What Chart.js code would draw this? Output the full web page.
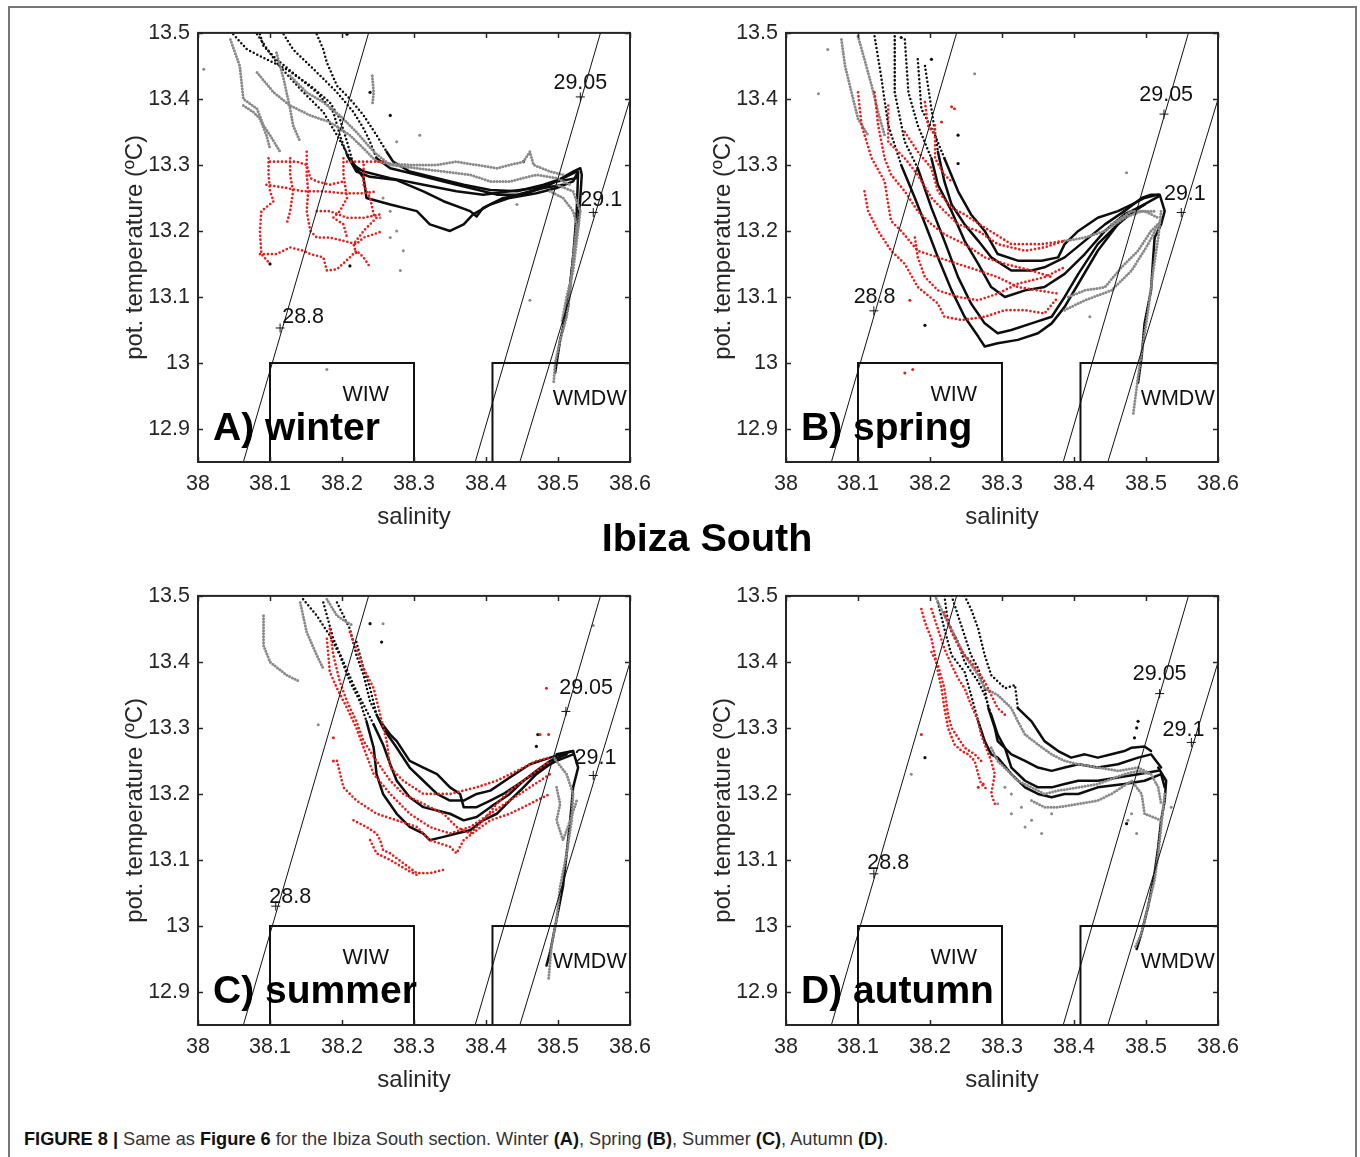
<!DOCTYPE html>
<html>
<head>
  <title>Ibiza South - T/S diagrams</title>
  <meta charset="UTF-8">
  <style>
    body {
      margin: 0;
      background: #fff;
      font-family: "Liberation Sans", Arial, sans-serif;
    }
    #page {
      position: relative;
      width: 1360px;
      height: 1157px;
      overflow: hidden;
    }
    #frame {
      position: absolute;
      left: 8px;
      top: 6px;
      width: 1349px;
      height: 1160px;
      border: 2px solid #777;
      border-bottom: none;
      box-sizing: border-box;
    }
    canvas {
      position: absolute;
    }
    #title {
      position: absolute;
      left: 457px;
      width: 500px;
      top: 518px;
      text-align: center;
      font-weight: bold;
      font-size: 39.5px;
      line-height: 39.5px;
      color: #000;
    }
    #caption {
      position: absolute;
      left: 24px;
      top: 1130px;
      font-family: "Liberation Sans Narrow", "Liberation Sans", Arial, sans-serif;
      font-size: 18.2px;
      line-height: 19px;
      color: #333;
      white-space: nowrap;
    }
    #caption b {
      color: #111;
    }
  </style>
  <script src="https://cdn.jsdelivr.net/npm/chart.js"></script>
</head>
<body>
<div id="page">
  <div id="frame"></div>

  <!-- four T/S panels -->
  <canvas id="chartA" width="560" height="528" style="left:100px; top:12px;"></canvas>
  <canvas id="chartB" width="560" height="528" style="left:688px; top:12px;"></canvas>
  <canvas id="chartC" width="560" height="528" style="left:100px; top:575px;"></canvas>
  <canvas id="chartD" width="560" height="528" style="left:688px; top:575px;"></canvas>

  <div id="title">Ibiza South</div>
  <div id="caption"><b>FIGURE 8 |</b> Same as <b>Figure 6</b> for the Ibiza South section. Winter <b>(A)</b>, Spring <b>(B)</b>, Summer <b>(C)</b>, Autumn <b>(D)</b>.</div>
</div>

<script>
  // axes
  const xTicks = [38, 38.1, 38.2, 38.3, 38.4, 38.5, 38.6];
  const yTicks = [12.9, 13, 13.1, 13.2, 13.3, 13.4, 13.5];

  // isopycnals (salinity, pot. temperature)
  const sigmaLabels = ['28.8', '29.05', '29.1'];
  const sigmaLines = [
    [[38.063, 12.85], [38.237, 13.5]],
    [[38.385, 12.85], [38.559, 13.5]],
    [[38.447, 12.85], [38.628, 13.5]]
  ];

  // water mass boxes
  const waterMasses = ['WIW', 'WMDW'];
  const wiwBox = [[38.1, 12.85], [38.1, 13.0], [38.3, 13.0], [38.3, 12.85]];
  const wmdwBox = [[38.409, 12.85], [38.409, 13.0], [38.6, 13.0]];

  const panelNames = ['A) winter', 'B) spring', 'C) summer', 'D) autumn'];

  // ---------- A) winter ----------
  const winterBlack = [
    [[38.082,13.498],[38.109,13.455],[38.142,13.415],[38.174,13.380],[38.193,13.345],[38.211,13.310],[38.230,13.280],[38.234,13.250],[38.267,13.240],[38.304,13.230],[38.322,13.210],[38.350,13.200],[38.369,13.210],[38.382,13.225],[38.406,13.240],[38.433,13.250],[38.470,13.257],[38.498,13.265],[38.521,13.275],[38.528,13.290],[38.526,13.230],[38.521,13.160],[38.514,13.085],[38.503,13.035],[38.496,12.985]],
    [[38.049,13.498],[38.068,13.475],[38.095,13.460],[38.123,13.445],[38.156,13.420],[38.183,13.395],[38.197,13.370],[38.207,13.335],[38.216,13.300],[38.230,13.290],[38.267,13.280],[38.313,13.270],[38.359,13.260],[38.396,13.255],[38.433,13.260],[38.470,13.265],[38.498,13.275],[38.526,13.280]],
    [[38.165,13.498],[38.174,13.475],[38.179,13.455],[38.193,13.420],[38.211,13.400],[38.230,13.375],[38.248,13.345],[38.262,13.320],[38.271,13.305],[38.294,13.290],[38.332,13.280],[38.369,13.270],[38.406,13.262],[38.443,13.260],[38.480,13.270],[38.507,13.280],[38.526,13.290]],
    [[38.119,13.498],[38.132,13.475],[38.151,13.455],[38.170,13.435],[38.193,13.410],[38.216,13.380],[38.230,13.355],[38.239,13.335],[38.248,13.310],[38.267,13.295],[38.304,13.285],[38.341,13.275],[38.378,13.265],[38.415,13.255],[38.443,13.255],[38.480,13.265],[38.507,13.270]],
    [[38.086,13.498],[38.091,13.480],[38.109,13.460],[38.137,13.435],[38.165,13.410],[38.188,13.380],[38.197,13.345],[38.207,13.315],[38.220,13.290],[38.239,13.282],[38.276,13.277],[38.313,13.260],[38.341,13.245],[38.378,13.230],[38.387,13.222],[38.396,13.235],[38.424,13.250],[38.452,13.255],[38.489,13.270],[38.521,13.290],[38.531,13.295],[38.533,13.285],[38.531,13.250],[38.528,13.210],[38.521,13.160],[38.517,13.120],[38.512,13.085],[38.507,13.060]]
  ];
  const winterGray = [
    [[38.045,13.490],[38.058,13.450],[38.063,13.400],[38.082,13.385],[38.091,13.360],[38.100,13.345],[38.114,13.320]],
    [[38.063,13.390],[38.077,13.380],[38.086,13.370],[38.095,13.345],[38.100,13.325]],
    [[38.109,13.470],[38.119,13.430],[38.128,13.385],[38.132,13.360],[38.142,13.335]],
    [[38.082,13.440],[38.105,13.410],[38.128,13.390],[38.156,13.375],[38.183,13.365],[38.211,13.345],[38.230,13.325],[38.248,13.305],[38.267,13.302],[38.294,13.300],[38.332,13.300],[38.359,13.305],[38.387,13.300],[38.415,13.295],[38.452,13.305],[38.461,13.320],[38.466,13.300],[38.489,13.290],[38.507,13.285]],
    [[38.128,13.435],[38.151,13.410],[38.174,13.395],[38.197,13.375],[38.220,13.350],[38.244,13.320],[38.267,13.300],[38.304,13.295],[38.341,13.290],[38.378,13.285],[38.406,13.275],[38.433,13.275],[38.470,13.285],[38.498,13.280],[38.517,13.270]],
    [[38.242,13.435],[38.244,13.410],[38.242,13.390]],
    [[38.489,13.260],[38.507,13.250],[38.521,13.230],[38.526,13.210],[38.521,13.160],[38.517,13.110],[38.512,13.070],[38.503,13.035],[38.496,13.000],[38.494,12.970]],
    [[38.498,13.270],[38.521,13.260],[38.531,13.230],[38.526,13.185],[38.521,13.140],[38.512,13.100],[38.505,13.060]]
  ];
  const winterRed = [
    [[38.098,13.310],[38.098,13.285],[38.100,13.260],[38.105,13.245],[38.088,13.230],[38.086,13.200],[38.088,13.165],[38.100,13.150]],
    [[38.100,13.305],[38.119,13.305],[38.137,13.305],[38.151,13.300],[38.156,13.280],[38.165,13.275],[38.183,13.270],[38.202,13.275]],
    [[38.095,13.270],[38.123,13.265],[38.146,13.260],[38.174,13.260],[38.202,13.257],[38.230,13.257],[38.248,13.260]],
    [[38.151,13.320],[38.151,13.285],[38.153,13.260],[38.151,13.230],[38.156,13.200],[38.165,13.190],[38.183,13.190],[38.202,13.185],[38.220,13.180],[38.230,13.190],[38.244,13.195],[38.257,13.200]],
    [[38.207,13.305],[38.230,13.305],[38.257,13.305]],
    [[38.086,13.165],[38.109,13.165],[38.128,13.175],[38.146,13.170],[38.156,13.165],[38.174,13.160],[38.179,13.140],[38.193,13.142],[38.211,13.160],[38.220,13.170],[38.230,13.160],[38.239,13.145]],
    [[38.202,13.310],[38.202,13.285],[38.207,13.250],[38.197,13.230],[38.188,13.220],[38.202,13.210],[38.207,13.190]],
    [[38.230,13.300],[38.230,13.270],[38.239,13.250],[38.244,13.225],[38.248,13.220],[38.230,13.200],[38.216,13.180],[38.220,13.165]],
    [[38.128,13.310],[38.128,13.285],[38.132,13.260],[38.128,13.230],[38.123,13.210]],
    [[38.165,13.230],[38.183,13.230],[38.207,13.220],[38.230,13.220],[38.253,13.225]]
  ];
  const winterBlackDots = [[38.207,13.498],[38.239,13.410],[38.267,13.375],[38.100,13.150],[38.211,13.147],[38.452,13.305]];
  const winterGrayDots = [[38.008,13.445],[38.276,13.200],[38.285,13.170],[38.281,13.140],[38.267,13.230],[38.257,13.250],[38.308,13.345],[38.276,13.335],[38.253,13.220],[38.267,13.190],[38.461,13.095],[38.443,13.240],[38.179,12.990]];
  const winterRedDots = [];
  const winterPlus = [[38.114,13.053],[38.531,13.403],[38.549,13.228]];

  // ---------- B) spring ----------
  const springBlack = [
    [[38.123,13.495],[38.132,13.435],[38.142,13.360],[38.160,13.300],[38.179,13.250],[38.197,13.200],[38.211,13.160],[38.230,13.110],[38.248,13.070],[38.267,13.040],[38.276,13.025],[38.294,13.030],[38.322,13.035],[38.350,13.045],[38.369,13.060],[38.387,13.085],[38.406,13.120],[38.433,13.170],[38.461,13.210],[38.489,13.235],[38.517,13.252]],
    [[38.151,13.495],[38.151,13.410],[38.165,13.335],[38.183,13.295],[38.202,13.235],[38.220,13.185],[38.239,13.130],[38.257,13.090],[38.276,13.060],[38.294,13.045],[38.313,13.050],[38.341,13.060],[38.369,13.070],[38.387,13.100],[38.406,13.135],[38.433,13.180],[38.470,13.220],[38.498,13.240]],
    [[38.165,13.490],[38.170,13.410],[38.183,13.360],[38.202,13.310],[38.211,13.270],[38.230,13.230],[38.248,13.185],[38.267,13.150],[38.285,13.115],[38.304,13.100],[38.332,13.110],[38.359,13.115],[38.387,13.135],[38.415,13.165],[38.443,13.200],[38.470,13.225],[38.498,13.240]],
    [[38.193,13.450],[38.202,13.385],[38.211,13.320],[38.220,13.275],[38.230,13.240],[38.248,13.210],[38.267,13.185],[38.285,13.160],[38.313,13.140],[38.341,13.140],[38.359,13.145],[38.387,13.160],[38.415,13.185],[38.443,13.210],[38.470,13.230]],
    [[38.183,13.460],[38.188,13.385],[38.207,13.345],[38.220,13.310],[38.239,13.260],[38.257,13.225],[38.276,13.200],[38.294,13.165],[38.322,13.155],[38.355,13.155],[38.378,13.160],[38.387,13.180],[38.406,13.200],[38.433,13.220],[38.461,13.230],[38.480,13.240],[38.498,13.250],[38.517,13.255]],
    [[38.470,13.230],[38.494,13.250],[38.507,13.255],[38.519,13.255],[38.526,13.230],[38.521,13.210],[38.512,13.190],[38.510,13.160],[38.507,13.110],[38.498,13.060],[38.494,13.010],[38.489,12.970]]
  ];
  const springGray = [
    [[38.077,13.490],[38.082,13.450],[38.091,13.410],[38.100,13.370],[38.114,13.345]],
    [[38.100,13.495],[38.109,13.460],[38.119,13.420],[38.128,13.380],[38.137,13.345]],
    [[38.387,13.185],[38.415,13.190],[38.443,13.200],[38.470,13.220],[38.494,13.230],[38.512,13.230]],
    [[38.392,13.100],[38.415,13.110],[38.443,13.115],[38.466,13.145],[38.489,13.170],[38.507,13.200],[38.521,13.215]],
    [[38.387,13.080],[38.415,13.095],[38.452,13.110],[38.480,13.140],[38.503,13.180],[38.517,13.210]],
    [[38.452,13.210],[38.480,13.230],[38.498,13.230],[38.517,13.220]],
    [[38.521,13.230],[38.517,13.190],[38.510,13.140],[38.503,13.080],[38.496,13.030],[38.489,12.980],[38.482,12.920]]
  ];
  const springRed = [
    [[38.100,13.410],[38.105,13.360],[38.119,13.310],[38.137,13.275],[38.142,13.240],[38.146,13.215],[38.160,13.200],[38.183,13.170],[38.211,13.160],[38.239,13.150],[38.267,13.140],[38.294,13.130],[38.322,13.115],[38.350,13.110],[38.378,13.105]],
    [[38.123,13.410],[38.128,13.360],[38.137,13.310],[38.146,13.285],[38.165,13.260],[38.183,13.230],[38.202,13.210],[38.220,13.195],[38.248,13.180],[38.276,13.160],[38.304,13.150],[38.341,13.140],[38.369,13.130]],
    [[38.142,13.390],[38.142,13.335],[38.165,13.310],[38.183,13.285],[38.202,13.250],[38.220,13.230],[38.239,13.210],[38.267,13.200],[38.294,13.180],[38.332,13.170],[38.359,13.175],[38.387,13.185]],
    [[38.165,13.350],[38.183,13.320],[38.202,13.295],[38.211,13.260],[38.230,13.235],[38.248,13.225],[38.276,13.205],[38.313,13.180],[38.355,13.180],[38.387,13.185]],
    [[38.109,13.260],[38.114,13.230],[38.128,13.200],[38.146,13.170],[38.165,13.150],[38.183,13.115],[38.211,13.090],[38.220,13.070],[38.244,13.065],[38.276,13.070],[38.304,13.080],[38.332,13.080],[38.359,13.075],[38.378,13.100]],
    [[38.179,13.190],[38.183,13.160],[38.193,13.130],[38.211,13.110],[38.239,13.100],[38.267,13.095],[38.294,13.105],[38.322,13.120],[38.359,13.130],[38.387,13.145]],
    [[38.207,13.360],[38.207,13.310],[38.220,13.285],[38.230,13.275]],
    [[38.193,13.395],[38.197,13.360],[38.207,13.345]]
  ];
  const springBlackDots = [[38.202,13.460],[38.239,13.345],[38.239,13.302],[38.193,13.057],[38.160,13.493]];
  const springGrayDots = [[38.045,13.408],[38.058,13.475],[38.262,13.438],[38.473,13.288],[38.422,13.070],[38.160,12.892]];
  const springRedDots = [[38.230,13.388],[38.234,13.385],[38.216,13.365],[38.165,12.985],[38.176,12.990],[38.172,13.095]];
  const springPlus = [[38.122,13.079],[38.525,13.377],[38.549,13.228]];

  // ---------- C) summer ----------
  const summerBlack = [
    [[38.146,13.495],[38.165,13.470],[38.183,13.440],[38.197,13.410],[38.211,13.370],[38.225,13.340],[38.234,13.310],[38.244,13.270],[38.248,13.230],[38.257,13.200],[38.276,13.170],[38.294,13.150],[38.313,13.140],[38.322,13.130],[38.341,13.135],[38.359,13.140],[38.378,13.145],[38.396,13.160],[38.415,13.170],[38.433,13.190],[38.452,13.210],[38.470,13.230],[38.489,13.245],[38.507,13.260]],
    [[38.174,13.490],[38.188,13.435],[38.202,13.400],[38.216,13.365],[38.230,13.335],[38.244,13.305],[38.257,13.275],[38.267,13.245],[38.276,13.220],[38.294,13.195],[38.313,13.180],[38.332,13.175],[38.350,13.170],[38.369,13.160],[38.387,13.165],[38.406,13.180],[38.433,13.200],[38.452,13.220],[38.470,13.235],[38.489,13.250],[38.512,13.260]],
    [[38.193,13.490],[38.211,13.450],[38.220,13.410],[38.230,13.380],[38.239,13.340],[38.253,13.310],[38.267,13.290],[38.276,13.280],[38.294,13.250],[38.313,13.240],[38.332,13.230],[38.350,13.210],[38.364,13.200],[38.369,13.180],[38.387,13.180],[38.406,13.190],[38.424,13.200],[38.452,13.220],[38.480,13.240],[38.498,13.250],[38.521,13.260]],
    [[38.220,13.430],[38.230,13.390],[38.239,13.360],[38.248,13.320],[38.257,13.300],[38.276,13.270],[38.294,13.240],[38.313,13.220],[38.332,13.200],[38.350,13.190],[38.369,13.190],[38.387,13.200],[38.406,13.205],[38.433,13.225],[38.461,13.245],[38.489,13.255],[38.521,13.265]],
    [[38.498,13.260],[38.521,13.265],[38.528,13.240],[38.521,13.210],[38.517,13.160],[38.512,13.110],[38.507,13.060],[38.498,13.010],[38.489,12.960],[38.484,12.940]]
  ];
  const summerGray = [
    [[38.091,13.470],[38.091,13.425],[38.100,13.400],[38.123,13.380],[38.142,13.370]],
    [[38.142,13.490],[38.151,13.445],[38.165,13.410],[38.174,13.390]],
    [[38.179,13.495],[38.193,13.470],[38.207,13.460],[38.216,13.455]],
    [[38.494,13.255],[38.512,13.230],[38.521,13.200],[38.519,13.160],[38.512,13.110],[38.503,13.060],[38.498,13.010],[38.491,12.970],[38.487,12.920]],
    [[38.498,13.210],[38.503,13.185],[38.498,13.160],[38.507,13.130],[38.517,13.160],[38.526,13.190]]
  ];
  const summerRed = [
    [[38.183,13.450],[38.188,13.410],[38.197,13.370],[38.207,13.340],[38.220,13.310],[38.230,13.280],[38.248,13.250],[38.267,13.220],[38.285,13.200],[38.313,13.185],[38.341,13.170],[38.359,13.150],[38.378,13.140],[38.396,13.160],[38.415,13.185],[38.433,13.205],[38.452,13.220],[38.470,13.235],[38.489,13.250]],
    [[38.179,13.435],[38.183,13.385],[38.193,13.360],[38.207,13.330],[38.220,13.300],[38.230,13.270],[38.244,13.230],[38.267,13.200],[38.294,13.170],[38.322,13.150],[38.350,13.140],[38.378,13.150],[38.406,13.170],[38.433,13.190],[38.461,13.210],[38.489,13.230]],
    [[38.211,13.445],[38.220,13.420],[38.230,13.390],[38.244,13.360],[38.253,13.320],[38.262,13.280],[38.267,13.240],[38.285,13.220],[38.313,13.200],[38.350,13.200],[38.387,13.210],[38.415,13.220],[38.443,13.235],[38.470,13.250],[38.489,13.255]],
    [[38.216,13.160],[38.234,13.150],[38.248,13.140],[38.253,13.130],[38.257,13.115],[38.267,13.110],[38.285,13.095],[38.304,13.080],[38.322,13.080],[38.341,13.085]],
    [[38.239,13.130],[38.248,13.110],[38.267,13.100],[38.290,13.085],[38.308,13.075]],
    [[38.193,13.250],[38.202,13.210],[38.220,13.190],[38.248,13.170],[38.276,13.160],[38.304,13.150],[38.322,13.130],[38.350,13.120],[38.359,13.110],[38.369,13.130],[38.387,13.145],[38.406,13.160],[38.433,13.170],[38.452,13.180],[38.470,13.190],[38.489,13.200]]
  ];
  const summerBlackDots = [[38.239,13.458],[38.255,13.430],[38.472,13.290],[38.470,13.272]];
  const summerGrayDots = [[38.167,13.305],[38.257,13.458],[38.549,13.455]];
  const summerRedDots = [[38.484,13.360],[38.475,13.290],[38.487,13.290],[38.188,13.285],[38.188,13.250]];
  const summerPlus = [[38.108,13.030],[38.511,13.325],[38.549,13.228]];

  // ---------- D) autumn ----------
  const autumnBlack = [
    [[38.248,13.500],[38.257,13.480],[38.267,13.450],[38.276,13.410],[38.285,13.380],[38.304,13.360],[38.318,13.365],[38.322,13.330],[38.341,13.310],[38.350,13.295],[38.359,13.280],[38.378,13.265],[38.396,13.255],[38.415,13.260],[38.433,13.255],[38.452,13.260],[38.470,13.265],[38.480,13.270],[38.498,13.272],[38.507,13.265]],
    [[38.230,13.500],[38.239,13.470],[38.248,13.440],[38.257,13.410],[38.267,13.390],[38.276,13.360],[38.281,13.330],[38.290,13.300],[38.294,13.280],[38.313,13.260],[38.332,13.250],[38.350,13.240],[38.369,13.235],[38.387,13.240],[38.406,13.245],[38.433,13.240],[38.461,13.245],[38.489,13.255],[38.507,13.260],[38.521,13.240]],
    [[38.220,13.500],[38.225,13.460],[38.239,13.430],[38.248,13.400],[38.267,13.370],[38.276,13.350],[38.285,13.320],[38.294,13.290],[38.304,13.270],[38.313,13.240],[38.332,13.220],[38.350,13.210],[38.369,13.210],[38.387,13.215],[38.406,13.220],[38.433,13.220],[38.461,13.225],[38.489,13.230],[38.517,13.235]],
    [[38.211,13.490],[38.220,13.450],[38.230,13.410],[38.248,13.385],[38.257,13.350],[38.267,13.310],[38.276,13.280],[38.285,13.260],[38.294,13.255],[38.313,13.230],[38.332,13.210],[38.350,13.200],[38.369,13.195],[38.387,13.200],[38.406,13.200],[38.433,13.210],[38.470,13.215],[38.498,13.220],[38.521,13.230],[38.526,13.210]],
    [[38.517,13.240],[38.528,13.220],[38.526,13.190],[38.521,13.160],[38.517,13.120],[38.512,13.080],[38.503,13.030],[38.494,12.990],[38.487,12.965]]
  ];
  const autumnGray = [
    [[38.207,13.500],[38.220,13.470],[38.234,13.440],[38.248,13.410],[38.267,13.380],[38.276,13.360],[38.294,13.350],[38.313,13.330],[38.322,13.310],[38.332,13.290],[38.350,13.275],[38.369,13.260],[38.387,13.250],[38.406,13.245],[38.433,13.240],[38.461,13.235],[38.489,13.240],[38.507,13.230]],
    [[38.285,13.270],[38.294,13.250],[38.313,13.230],[38.322,13.220],[38.341,13.210],[38.359,13.200],[38.378,13.205],[38.406,13.210],[38.433,13.215],[38.470,13.230],[38.489,13.235],[38.507,13.230],[38.517,13.210],[38.521,13.185]],
    [[38.341,13.190],[38.359,13.180],[38.378,13.180],[38.406,13.185],[38.433,13.190],[38.452,13.200],[38.480,13.220],[38.494,13.200],[38.498,13.170],[38.521,13.160]],
    [[38.526,13.200],[38.521,13.150],[38.517,13.110],[38.512,13.070],[38.503,13.030],[38.494,12.990],[38.484,12.965]]
  ];
  const autumnRed = [
    [[38.188,13.480],[38.193,13.460],[38.202,13.435],[38.207,13.410],[38.211,13.385],[38.216,13.360],[38.220,13.330],[38.225,13.300],[38.234,13.275],[38.244,13.265],[38.253,13.260],[38.262,13.250],[38.267,13.230],[38.271,13.215],[38.281,13.205]],
    [[38.202,13.480],[38.211,13.450],[38.220,13.420],[38.230,13.395],[38.239,13.375],[38.248,13.360],[38.257,13.335],[38.267,13.310],[38.271,13.290],[38.276,13.275],[38.285,13.250],[38.290,13.230],[38.285,13.200],[38.290,13.185]],
    [[38.220,13.475],[38.230,13.445],[38.239,13.425],[38.248,13.410],[38.257,13.400],[38.267,13.385],[38.276,13.370],[38.285,13.350],[38.294,13.330],[38.304,13.320]],
    [[38.202,13.415],[38.211,13.395],[38.220,13.360],[38.225,13.320],[38.230,13.300],[38.239,13.285],[38.248,13.270],[38.262,13.260],[38.271,13.250]]
  ];
  const autumnBlackDots = [[38.489,13.310],[38.487,13.300],[38.484,13.285],[38.193,13.255],[38.473,13.155]];
  const autumnGrayDots = [[38.294,13.185],[38.313,13.170],[38.332,13.150],[38.355,13.140],[38.341,13.160],[38.369,13.170],[38.327,13.180],[38.313,13.200],[38.304,13.210],[38.480,13.170],[38.487,13.140],[38.475,13.160],[38.174,13.230],[38.535,13.180]];
  const autumnRedDots = [[38.188,13.290],[38.267,13.210],[38.274,13.215]];
  const autumnPlus = [[38.122,13.079],[38.519,13.352],[38.563,13.278]];

  // panel layout: where the isopycnal labels sit (data coords)
  const panels = [
    { id: 'chartA', name: panelNames[0], black: winterBlack, gray: winterGray, red: winterRed,
      blackDots: winterBlackDots, grayDots: winterGrayDots, redDots: winterRedDots, plus: winterPlus,
      labelAt: [[38.146,13.070],[38.531,13.424],[38.560,13.247]] },
    { id: 'chartB', name: panelNames[1], black: springBlack, gray: springGray, red: springRed,
      blackDots: springBlackDots, grayDots: springGrayDots, redDots: springRedDots, plus: springPlus,
      labelAt: [[38.123,13.100],[38.528,13.406],[38.554,13.256]] },
    { id: 'chartC', name: panelNames[2], black: summerBlack, gray: summerGray, red: summerRed,
      blackDots: summerBlackDots, grayDots: summerGrayDots, redDots: summerRedDots, plus: summerPlus,
      labelAt: [[38.128,13.044],[38.539,13.360],[38.552,13.254]] },
    { id: 'chartD', name: panelNames[3], black: autumnBlack, gray: autumnGray, red: autumnRed,
      blackDots: autumnBlackDots, grayDots: autumnGrayDots, redDots: autumnRedDots, plus: autumnPlus,
      labelAt: [[38.142,13.096],[38.519,13.381],[38.552,13.297]] }
  ];

  const BLACK = '#0d0d0d';
  const GRAY = '#8a8a8a';
  const RED = '#e3201c';
  const AXIS = '#262626';
  const FONT = '"Liberation Sans", Arial, sans-serif';

  Chart.defaults.font.family = FONT;
  Chart.defaults.color = AXIS;

  function pts(arr) {
    return arr.map(p => ({ x: p[0], y: p[1] }));
  }

  function fmt(v) {
    return String(Number(v.toFixed(2)));
  }

  // box + inward ticks on all four sides (matlab style)
  const axisBox = {
    id: 'axisBox',
    afterDatasetsDraw(chart) {
      const { ctx, chartArea: a, scales: { x, y } } = chart;
      ctx.save();
      ctx.strokeStyle = AXIS;
      ctx.lineWidth = 1.5;
      ctx.beginPath();
      xTicks.forEach(v => {
        const px = Math.round(x.getPixelForValue(v)) + 0.5;
        ctx.moveTo(px, a.bottom); ctx.lineTo(px, a.bottom - 5);
        ctx.moveTo(px, a.top); ctx.lineTo(px, a.top + 5);
      });
      yTicks.forEach(v => {
        const py = Math.round(y.getPixelForValue(v)) + 0.5;
        ctx.moveTo(a.left, py); ctx.lineTo(a.left + 5, py);
        ctx.moveTo(a.right, py); ctx.lineTo(a.right - 5, py);
      });
      ctx.stroke();
      ctx.lineWidth = 2;
      ctx.strokeRect(a.left, a.top, a.right - a.left, a.bottom - a.top);
      ctx.restore();
    }
  };

  // isopycnal labels, water mass names and the panel name
  const panelText = {
    id: 'panelText',
    afterDraw(chart, args, opts) {
      const { ctx, scales: { x, y } } = chart;
      const p = opts.panel;
      ctx.save();
      ctx.fillStyle = '#111';
      ctx.font = '21.5px ' + FONT;
      ctx.textAlign = 'center';
      ctx.textBaseline = 'middle';
      sigmaLabels.forEach((t, i) => {
        ctx.fillText(t, x.getPixelForValue(p.labelAt[i][0]), y.getPixelForValue(p.labelAt[i][1]));
      });
      ctx.fillText(waterMasses[0], x.getPixelForValue(38.233), y.getPixelForValue(12.951));
      ctx.fillText(waterMasses[1], x.getPixelForValue(38.544), y.getPixelForValue(12.945));
      ctx.fillStyle = '#000';
      ctx.font = 'bold 39px ' + FONT;
      ctx.textAlign = 'left';
      ctx.textBaseline = 'alphabetic';
      ctx.fillText(p.name, x.getPixelForValue(38.021), y.getPixelForValue(12.883));
      ctx.restore();
    }
  };

  function buildDatasets(p) {
    const ds = [];
    ds.push({ data: pts(p.plus), pointStyle: 'cross', pointRadius: 4.5, borderColor: '#111',
              borderWidth: 1, order: 0 });
    sigmaLines.forEach(l => ds.push({ data: pts(l), showLine: true, borderColor: '#111',
              borderWidth: 1, pointRadius: 0, order: 1 }));
    [wiwBox, wmdwBox].forEach(b => ds.push({ data: pts(b), showLine: true, borderColor: '#111',
              borderWidth: 2, pointRadius: 0, order: 2 }));
    p.red.forEach(r => ds.push({ data: pts(r), showLine: true, borderColor: RED, borderWidth: 2.7,
              borderDash: [0, 4], borderCapStyle: 'round', pointRadius: 0, order: 3 }));
    ds.push({ data: pts(p.redDots), backgroundColor: RED, pointRadius: 1.5, borderWidth: 0, order: 3 });
    p.gray.forEach(g => ds.push({ data: pts(g), showLine: true, borderColor: GRAY, borderWidth: 3,
              borderDash: [0, 3], borderCapStyle: 'round', pointRadius: 0, order: 4 }));
    ds.push({ data: pts(p.grayDots), backgroundColor: GRAY, pointRadius: 1.5, borderWidth: 0, order: 4 });
    p.black.forEach(b => ds.push({ data: pts(b), showLine: true, borderColor: BLACK, borderWidth: 2.5,
              borderCapStyle: 'round', borderJoinStyle: 'round', pointRadius: 0, order: 5,
              segment: { borderDash: c => (c.p0.parsed.y > 13.33 ? [0, 4] : undefined) } }));
    ds.push({ data: pts(p.blackDots), backgroundColor: BLACK, pointRadius: 1.6, borderWidth: 0, order: 5 });
    return ds;
  }

  panels.forEach(p => {
    new Chart(document.getElementById(p.id).getContext('2d'), {
      type: 'scatter',
      data: { datasets: buildDatasets(p) },
      plugins: [axisBox, panelText],
      options: {
        responsive: false,
        animation: false,
        events: [],
        layout: { padding: { left: 0, right: 30, top: 20, bottom: 0 } },
        plugins: {
          legend: { display: false },
          tooltip: { enabled: false },
          panelText: { panel: p }
        },
        scales: {
          x: {
            type: 'linear', min: 38, max: 38.6,
            afterBuildTicks: a => { a.ticks = xTicks.map(v => ({ value: v })); },
            afterFit: a => { a.height = 78; },
            grid: { display: false, drawTicks: false },
            border: { display: false },
            ticks: { padding: 9, maxRotation: 0, autoSkip: false, callback: fmt,
                     color: AXIS, font: { size: 21.5 } },
            title: { display: true, text: 'salinity', color: AXIS, font: { size: 24 },
                     padding: { top: 0, bottom: 8 } }
          },
          y: {
            type: 'linear', min: 12.85, max: 13.5,
            afterBuildTicks: a => { a.ticks = yTicks.map(v => ({ value: v })); },
            afterFit: a => { a.width = 98; },
            grid: { display: false, drawTicks: false },
            border: { display: false },
            ticks: { padding: 8, autoSkip: false, callback: fmt, color: AXIS, font: { size: 21.5 } },
            title: { display: true, text: 'pot. temperature (ºC)', color: AXIS, font: { size: 24 },
                     padding: { top: 21, bottom: 0 } }
          }
        }
      }
    });
  });
</script>
</body>
</html>
